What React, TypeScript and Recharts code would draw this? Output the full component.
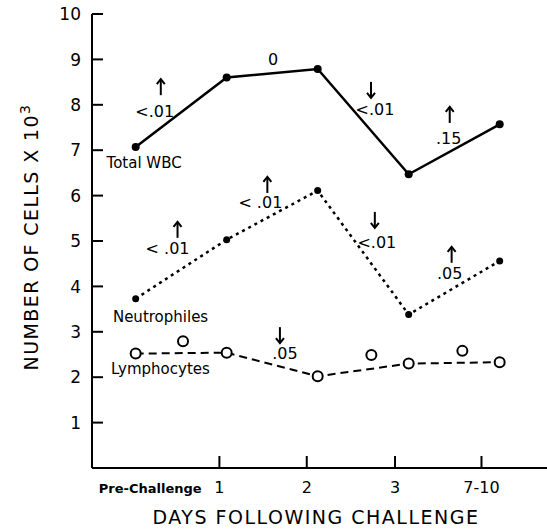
import { LineChart, Line, XAxis, YAxis, ReferenceDot } from 'recharts'

const categories = ['Pre-Challenge', '1', '2', '3', '7-10']
const totalWbc = [7.07, 8.6, 8.79, 6.47, 7.57]
const neutrophiles = [3.73, 5.03, 6.11, 3.38, 4.56]
const lymphocytes = [2.52, 2.54, 2.02, 2.3, 2.33]

// loose open circles that sit between the days
const lymphExtraDay = [0.52, 2.59, 3.59]
const lymphExtraValue = [2.79, 2.49, 2.58]

const yTicks = [1, 2, 3, 4, 5, 6, 7, 8, 9, 10]

// p values written on the segments: day position, value, text, arrow direction
const noteDay = [0.21, 1.51, 2.63, 3.44, 0.35, 1.37, 2.65, 3.45, 1.64]
const noteValue = [7.86, 9.01, 7.91, 7.27, 4.85, 5.86, 4.98, 4.3, 2.53]
const noteText = ['<.01', '0', '<.01', '.15', '< .01', '< .01', '<.01', '.05', '.05']
const noteDir = ['up', '', 'down', 'up', 'up', 'up', 'down', 'up', 'down']

const seriesNames = ['Total WBC', 'Neutrophiles', 'Lymphocytes']
const seriesNameDay = [-0.32, -0.25, -0.27]
const seriesNameValue = [6.72, 3.33, 2.2]

// where the day ticks sit on the baseline (the printed ticks are not under the points)
const tickPos = [0.16, 0.92, 1.88, 2.85, 3.8]

// arrow offset from its p value text, px
const arrowDx = [6, 0, -4, 1, 10, 7, -2, 2, -5]
const arrowDy = [-24, 0, -19, -23, -18, -17, -22, -18, -18]

const data = categories.map((c, i) => ({
  day: i,
  label: c,
  wbc: totalWbc[i],
  neut: neutrophiles[i],
  lymph: lymphocytes[i],
}))

const extra = lymphExtraDay.map((d, i) => ({ day: d, lymph: lymphExtraValue[i] }))

const FONT = '"DejaVu Sans", sans-serif'

function XTick(props: any) {
  const { x, y, index } = props
  return (
    <g>
      {index > 0 && <line x1={x} x2={x} y1={y} y2={y - 12} stroke="#000" strokeWidth={2} />}
      <text
        x={x}
        y={y + 25}
        textAnchor="middle"
        fontFamily={FONT}
        fontSize={index === 0 ? 13 : 16}
        fontWeight={index === 0 ? 'bold' : 'normal'}
        fill="#000"
      >
        {categories[index]}
      </text>
    </g>
  )
}

function YTick(props: any) {
  const { x, y, payload } = props
  return (
    <g>
      <line x1={x} x2={x + 11} y1={y} y2={y} stroke="#000" strokeWidth={2} />
      <text x={x - 11} y={y} dy="0.36em" textAnchor="end" fontFamily={FONT} fontSize={17} fill="#000">
        {payload.value}
      </text>
    </g>
  )
}

function Arrow({ x, y, dir }: { x: number; y: number; dir: string }) {
  const s = dir === 'up' ? -1 : 1
  return (
    <g stroke="#000" strokeWidth={2} fill="none">
      <line x1={x} x2={x} y1={y - 8} y2={y + 8} />
      <polyline points={`${x - 4},${y + s * 3} ${x},${y + s * 8} ${x + 4},${y + s * 3}`} />
    </g>
  )
}

function Note(props: any) {
  const { cx, cy, i } = props
  const dir = noteDir[i]
  return (
    <g>
      <text x={cx} y={cy} dy="0.36em" textAnchor="middle" fontFamily={FONT} fontSize={16} fill="#000">
        {noteText[i]}
      </text>
      {dir && <Arrow x={cx + arrowDx[i]} y={cy + arrowDy[i]} dir={dir} />}
    </g>
  )
}

function SeriesName(props: any) {
  const { cx, cy, i } = props
  return (
    <text x={cx} y={cy} dy="0.36em" textAnchor="start" fontFamily={FONT} fontSize={15} fill="#000">
      {seriesNames[i]}
    </text>
  )
}

const openDot = { r: 5, fill: '#fff', stroke: '#000', strokeWidth: 2, strokeDasharray: 'none' }

export default function App() {
  return (
    <div style={{ position: 'absolute', left: 0, top: 0, width: 547, height: 529, background: '#fff' }}>
      <LineChart width={547} height={529} data={data} margin={{ top: 14, right: 0, bottom: 0, left: 0 }}>
        <XAxis
          dataKey="day"
          type="number"
          domain={[-0.48, 4.52]}
          allowDataOverflow
          ticks={tickPos}
          tick={<XTick />}
          tickSize={0}
          tickMargin={0}
          tickLine={false}
          height={61}
          axisLine={{ stroke: '#000', strokeWidth: 2 }}
        />
        <YAxis
          type="number"
          domain={[0, 10]}
          ticks={yTicks}
          tick={<YTick />}
          tickSize={0}
          tickMargin={0}
          tickLine={false}
          width={92}
          axisLine={{ stroke: '#000', strokeWidth: 2 }}
        />
        <Line
          dataKey="wbc"
          stroke="#000"
          strokeWidth={2.5}
          dot={{ r: 4, fill: '#000', stroke: '#000', strokeWidth: 0 }}
          isAnimationActive={false}
        />
        <Line
          dataKey="neut"
          stroke="#000"
          strokeWidth={2.5}
          strokeDasharray="3 4"
          dot={{ r: 3.5, fill: '#000', stroke: '#000', strokeWidth: 0, strokeDasharray: 'none' }}
          isAnimationActive={false}
        />
        <Line
          dataKey="lymph"
          stroke="#000"
          strokeWidth={2}
          strokeDasharray="8 5"
          dot={openDot}
          isAnimationActive={false}
        />
        <Line data={extra} dataKey="lymph" stroke="none" dot={openDot} isAnimationActive={false} />
        {noteDay.map((d, i) => (
          <ReferenceDot key={'n' + i} x={d} y={noteValue[i]} shape={(p: any) => <Note {...p} i={i} />} />
        ))}
        {seriesNameDay.map((d, i) => (
          <ReferenceDot key={'s' + i} x={d} y={seriesNameValue[i]} shape={(p: any) => <SeriesName {...p} i={i} />} />
        ))}
      </LineChart>
      <svg width={547} height={529} style={{ position: 'absolute', left: 0, top: 0, pointerEvents: 'none' }}>
        <text x={316} y={524} textAnchor="middle" fontFamily={FONT} fontSize={19} letterSpacing={1.5} fill="#000">
          DAYS FOLLOWING CHALLENGE
        </text>
        <text
          transform="translate(38,237) rotate(-90)"
          textAnchor="middle"
          fontFamily={FONT}
          fontSize={19}
          letterSpacing={1.4}
          fill="#000"
        >
          NUMBER OF CELLS X 10
          <tspan dy={-8} fontSize={14}>
            3
          </tspan>
        </text>
      </svg>
    </div>
  )
}
